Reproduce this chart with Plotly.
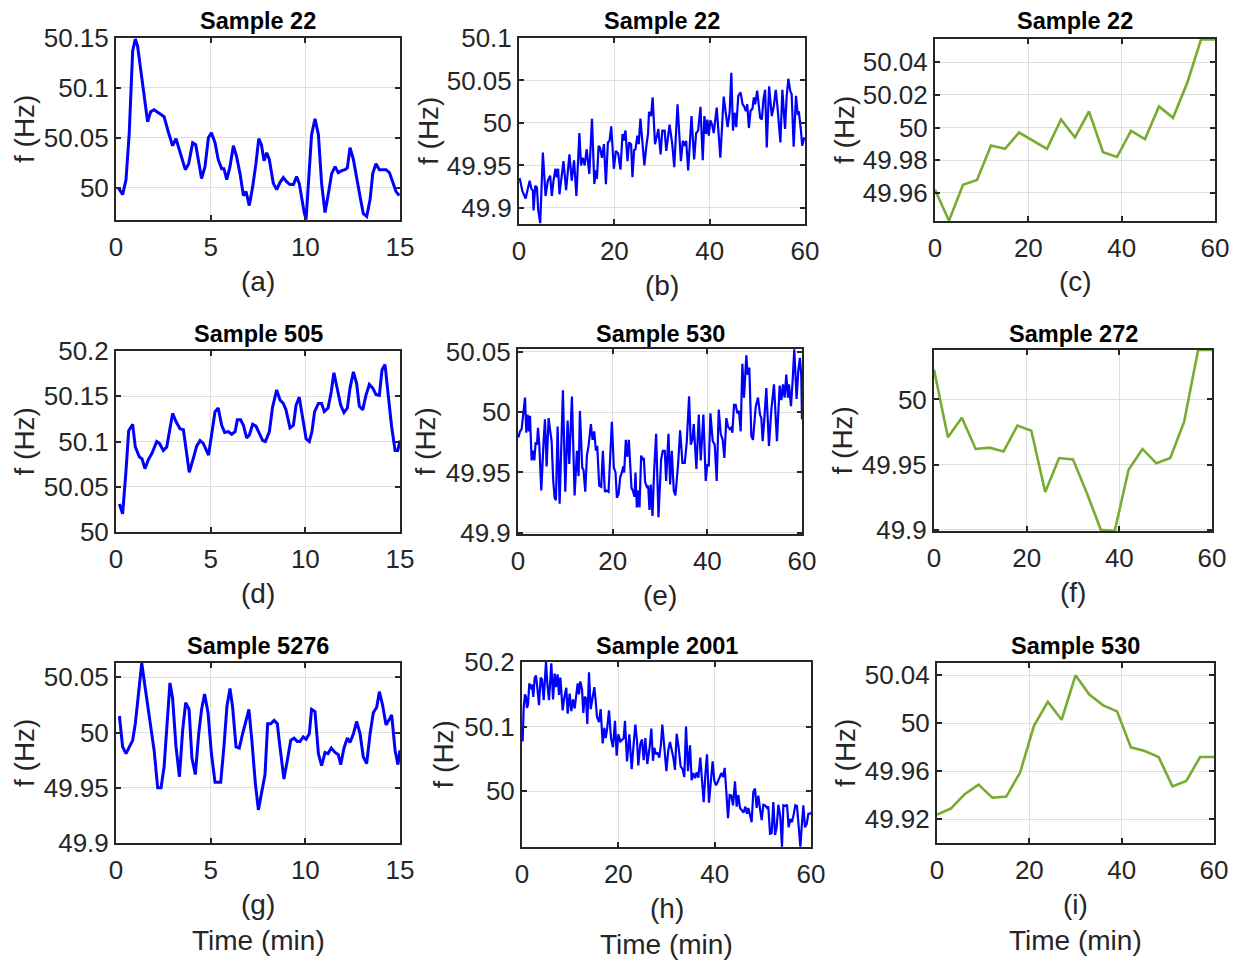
import plotly.graph_objects as go

# ---------------- data ----------------
a_x = [0.12,0.35,0.53,0.70,0.88,1.02,1.14,1.30,1.53,1.67,1.83,2.01,2.24,2.38,2.54,2.76,2.99,3.17,3.38,3.66,3.84,4.05,4.21,4.52,4.70,4.88,5.04,5.23,5.40,5.58,5.70,5.85,6.02,6.20,6.37,6.55,6.73,6.87,7.04,7.22,7.39,7.54,7.68,7.82,7.96,8.10,8.31,8.49,8.66,8.84,9.01,9.19,9.37,9.54,9.68,9.81,9.93,10.04,10.16,10.33,10.51,10.69,10.86,11.04,11.21,11.39,11.57,11.74,11.92,12.10,12.22,12.36,12.54,12.71,12.89,13.06,13.24,13.42,13.56,13.73,13.91,14.08,14.26,14.44,14.61,14.79,14.96]
a_y = [50.000,49.993,50.008,50.055,50.137,50.149,50.142,50.118,50.083,50.066,50.076,50.078,50.075,50.073,50.071,50.056,50.042,50.049,50.035,50.018,50.024,50.045,50.043,50.009,50.021,50.050,50.055,50.045,50.028,50.019,50.019,50.008,50.021,50.042,50.031,50.014,49.992,49.996,49.982,50.001,50.024,50.049,50.043,50.027,50.035,50.028,50.004,49.998,50.005,50.010,50.006,50.003,50.003,50.011,50.004,49.988,49.976,49.968,50.001,50.053,50.069,50.053,50.004,49.975,49.993,50.014,50.021,50.015,50.017,50.018,50.020,50.040,50.028,50.008,49.991,49.974,49.971,49.988,50.014,50.024,50.018,50.018,50.018,50.015,50.006,49.996,49.992]

b_x = [0.14,0.70,1.39,1.88,2.23,2.57,2.92,3.06,3.41,3.76,4.04,4.45,5.01,5.57,6.05,6.54,6.89,7.24,7.65,7.93,8.21,8.49,9.33,9.88,10.58,11.06,11.55,12.04,12.67,13.01,13.36,13.78,14.20,14.75,15.31,15.80,16.15,16.35,16.70,16.98,17.40,17.82,18.23,18.65,19.00,19.35,19.90,20.32,20.81,21.29,21.71,21.92,22.34,22.76,23.10,23.52,23.80,24.15,24.43,24.84,25.12,25.47,25.89,26.30,26.72,27.07,27.28,27.70,28.04,28.53,28.95,29.23,29.71,30.06,30.55,30.90,31.59,32.15,32.57,33.26,33.96,34.38,34.80,35.07,35.49,36.19,36.74,37.16,37.58,38.07,38.55,38.90,39.25,39.53,39.81,40.15,40.50,40.85,41.48,42.24,42.94,43.42,43.77,44.19,44.54,44.89,45.23,45.58,46.00,46.49,46.90,47.18,47.60,47.88,48.23,48.57,48.99,49.27,49.55,49.97,50.59,50.94,51.29,51.64,51.98,52.47,53.03,53.44,53.86,54.21,54.84,55.25,55.81,56.16,56.51,56.93,57.20,57.62,58.11,58.46,58.73,59.15,59.42,59.85]
b_y = [49.935,49.920,49.911,49.926,49.932,49.923,49.920,49.897,49.926,49.924,49.897,49.882,49.965,49.914,49.932,49.938,49.914,49.932,49.946,49.936,49.946,49.916,49.955,49.921,49.963,49.932,49.956,49.914,49.988,49.950,49.959,49.950,49.969,49.940,50.005,49.928,49.944,49.934,49.973,49.971,49.959,49.975,49.928,49.977,49.979,49.996,49.946,49.967,49.964,49.945,49.987,49.979,49.991,49.955,49.977,49.975,49.936,49.968,49.969,49.985,49.975,50.005,49.973,49.950,49.973,49.987,50.013,50.008,50.030,49.975,49.985,49.993,49.963,49.991,49.991,49.967,49.998,49.975,49.948,50.022,49.955,49.979,49.973,49.979,49.944,50.008,49.957,49.988,49.991,50.019,49.956,50.008,49.987,50.004,49.985,50.003,49.998,49.988,50.018,49.959,50.031,50.008,49.995,50.012,50.059,49.991,50.012,49.995,50.032,50.036,50.022,50.020,50.014,50.022,49.994,50.014,50.017,50.030,50.022,50.038,50.006,50.004,50.028,50.039,49.971,50.043,50.008,50.019,50.039,50.020,49.977,50.039,49.993,50.032,50.052,50.037,50.034,49.972,50.032,50.011,50.012,49.991,49.973,49.983]

c_x = [0,3,6,9,12,15,18,21,24,27,30,33,36,39,42,45,48,51,54,57,60]
c_y = [49.962,49.943,49.965,49.968,49.989,49.987,49.997,49.992,49.987,50.005,49.994,50.010,49.985,49.982,49.998,49.993,50.013,50.006,50.027,50.054,50.054]

d_x = [0.18,0.35,0.53,0.67,0.88,1.02,1.23,1.37,1.53,1.71,1.90,2.15,2.29,2.50,2.68,2.82,2.99,3.17,3.38,3.56,3.70,3.87,4.08,4.26,4.44,4.61,4.89,5.05,5.23,5.40,5.58,5.74,5.93,6.11,6.29,6.41,6.58,6.73,6.90,7.04,7.22,7.39,7.57,7.75,7.89,8.10,8.27,8.49,8.66,8.84,8.98,9.19,9.37,9.51,9.68,9.86,10.04,10.21,10.35,10.49,10.69,10.86,11.00,11.20,11.37,11.51,11.69,11.87,12.04,12.22,12.36,12.54,12.71,12.85,13.03,13.20,13.38,13.56,13.73,13.91,14.05,14.21,14.38,14.56,14.74,14.88,15.0]
d_y = [50.031,50.020,50.068,50.112,50.119,50.094,50.083,50.081,50.070,50.080,50.087,50.100,50.098,50.090,50.094,50.111,50.131,50.122,50.114,50.113,50.090,50.066,50.081,50.095,50.101,50.098,50.085,50.107,50.133,50.137,50.118,50.110,50.111,50.108,50.111,50.124,50.124,50.118,50.104,50.107,50.119,50.117,50.109,50.101,50.100,50.111,50.138,50.157,50.146,50.142,50.135,50.115,50.118,50.140,50.149,50.127,50.103,50.100,50.111,50.133,50.142,50.142,50.133,50.137,50.155,50.176,50.159,50.140,50.132,50.137,50.159,50.177,50.164,50.139,50.135,50.151,50.163,50.159,50.152,50.151,50.179,50.185,50.151,50.116,50.090,50.090,50.101]

e_x = [0.07,0.42,0.77,1.13,1.48,1.76,2.04,2.32,2.53,2.88,3.23,3.45,3.73,4.01,4.22,4.50,4.92,5.41,5.70,6.05,6.47,6.75,7.10,7.45,7.74,8.02,8.37,8.79,9.49,9.99,10.48,10.83,11.39,11.96,12.45,12.80,13.08,13.57,13.85,14.21,14.56,14.91,15.40,15.75,16.10,16.46,16.74,17.16,17.58,17.93,18.35,18.71,19.13,19.83,20.25,20.60,20.89,21.24,21.59,21.94,22.22,22.43,22.78,23.07,23.42,23.98,24.26,24.61,24.82,25.11,25.32,25.67,26.02,26.30,26.58,26.86,27.22,27.50,27.78,28.06,28.41,28.76,29.18,29.68,30.24,30.59,31.01,31.29,31.79,32.14,32.49,32.91,33.26,33.83,34.25,34.74,35.23,35.65,36.15,36.50,36.85,37.13,37.69,38.19,38.61,39.17,39.66,40.01,40.30,40.65,41.14,41.56,41.98,42.41,42.83,43.25,43.60,44.02,44.37,44.73,45.01,45.29,45.64,45.99,46.34,46.69,47.05,47.40,47.75,48.24,48.52,48.87,49.30,49.65,50.21,50.70,51.13,51.41,51.69,51.97,52.46,53.02,53.52,54.08,54.71,55.27,55.63,55.98,56.33,56.68,57.03,57.24,57.67,58.02,58.37,58.86,59.21,59.56,59.85,60.0]
e_y = [49.979,49.984,49.986,49.997,50.012,49.983,49.998,49.984,49.997,49.960,49.968,49.960,49.975,49.973,49.987,49.973,49.935,49.976,49.994,49.955,49.995,49.986,49.976,49.943,49.929,49.927,49.988,49.924,50.018,49.934,49.993,49.957,50.013,49.931,49.968,49.947,50.001,49.954,49.952,49.934,49.964,49.972,49.990,49.977,49.984,49.968,49.972,49.939,49.938,49.968,49.934,49.935,49.934,49.992,49.954,49.950,49.929,49.932,49.946,49.950,49.955,49.950,49.977,49.963,49.977,49.937,49.935,49.930,49.950,49.921,49.935,49.921,49.964,49.961,49.962,49.942,49.938,49.939,49.919,49.940,49.914,49.951,49.982,49.913,49.961,49.968,49.968,49.943,49.982,49.940,49.968,49.935,49.931,49.957,49.985,49.958,49.958,49.975,50.013,49.973,49.977,49.990,49.953,49.998,49.960,49.998,49.943,49.957,49.955,49.999,49.976,49.973,49.943,50.002,49.982,49.977,49.962,49.995,49.988,49.986,49.987,49.983,50.006,50.006,49.999,50.001,49.984,50.040,50.012,50.047,50.031,50.037,49.980,49.977,50.004,50.012,49.998,49.995,49.976,49.990,50.020,49.972,50.002,50.023,49.976,50.022,50.010,50.023,50.012,50.031,50.012,50.023,50.005,50.026,50.052,50.011,50.034,50.045,50.030,49.994]

f_x = [0,3,6,9,12,15,18,21,24,27,30,33,36,39,42,45,48,51,54,57,60]
f_y = [50.023,49.971,49.986,49.962,49.963,49.960,49.980,49.976,49.929,49.955,49.954,49.928,49.900,49.899,49.946,49.962,49.951,49.955,49.983,50.038,50.038]

g_x = [0.18,0.35,0.53,0.70,0.88,1.02,1.18,1.36,1.53,1.71,1.88,2.02,2.20,2.38,2.54,2.68,2.85,2.99,3.17,3.35,3.52,3.68,3.86,4.01,4.19,4.37,4.52,4.68,4.86,5.04,5.23,5.40,5.53,5.70,5.86,6.02,6.16,6.34,6.51,6.69,6.87,7.02,7.18,7.36,7.52,7.68,7.87,8.01,8.17,8.35,8.52,8.66,8.87,9.05,9.23,9.40,9.58,9.72,9.89,10.04,10.21,10.33,10.51,10.69,10.86,11.04,11.20,11.37,11.57,11.74,11.87,12.04,12.22,12.36,12.54,12.71,12.89,13.06,13.24,13.42,13.59,13.77,13.91,14.08,14.26,14.44,14.56,14.74,14.89,15.0]
g_y = [50.015,49.987,49.981,49.987,49.993,50.008,50.034,50.063,50.042,50.021,49.999,49.983,49.950,49.950,49.969,50.008,50.045,50.031,49.987,49.960,50.002,50.027,50.021,49.977,49.962,49.999,50.021,50.035,50.018,49.981,49.955,49.955,49.955,49.987,50.024,50.040,50.023,49.987,49.986,49.999,50.012,50.021,49.992,49.954,49.930,49.945,49.962,50.008,50.008,50.011,50.008,49.987,49.958,49.975,49.993,49.995,49.992,49.992,49.996,49.994,49.999,50.021,50.019,49.981,49.970,49.982,49.981,49.986,49.982,49.980,49.971,49.986,49.995,49.991,49.999,50.010,49.999,49.978,49.972,49.999,50.018,50.023,50.037,50.025,50.007,50.012,50.016,49.984,49.971,49.984]

h_x = [0.14,0.35,0.62,0.83,1.04,1.25,1.52,1.87,2.08,2.35,2.63,2.91,3.25,3.53,3.88,4.15,4.50,4.98,5.26,5.61,6.09,6.44,6.78,7.06,7.40,7.68,7.96,8.44,8.79,9.20,9.48,9.90,10.24,10.59,10.93,11.21,11.56,11.83,12.11,12.46,12.73,13.01,13.29,13.56,13.91,14.26,14.67,15.02,15.29,15.57,15.99,16.33,16.75,17.09,17.37,17.65,18.06,18.48,18.89,19.31,19.65,20.00,20.42,20.76,21.11,21.38,21.80,22.28,22.77,23.18,23.53,23.88,24.15,24.57,24.91,25.26,25.61,26.02,26.51,26.85,27.20,27.47,27.82,28.10,28.51,28.86,29.13,29.55,29.97,30.38,30.73,31.07,31.42,31.76,32.11,32.53,32.94,33.29,33.70,34.05,34.46,34.88,35.22,35.57,35.92,36.26,36.61,37.02,37.37,37.72,38.06,38.41,38.82,39.24,39.58,39.93,40.28,40.62,41.04,41.38,41.73,42.08,42.42,42.77,43.11,43.46,43.81,44.22,44.57,44.91,45.26,45.61,46.02,46.37,46.71,46.99,47.34,47.68,48.03,48.37,48.72,49.07,49.41,49.76,50.10,50.45,50.87,51.14,51.49,51.83,52.18,52.53,52.87,53.22,53.63,53.98,54.26,54.67,55.02,55.36,55.71,56.06,56.40,56.75,57.09,57.44,57.79,58.06,58.41,58.75,59.10,59.45,59.79,60.0]
h_y = [50.077,50.129,50.150,50.146,50.129,50.134,50.167,50.158,50.165,50.146,50.175,50.179,50.155,50.133,50.176,50.173,50.141,50.200,50.166,50.141,50.198,50.142,50.182,50.161,50.181,50.149,50.176,50.125,50.145,50.160,50.120,50.151,50.124,50.142,50.128,50.144,50.167,50.150,50.170,50.158,50.121,50.146,50.144,50.104,50.184,50.127,50.145,50.161,50.140,50.115,50.107,50.127,50.074,50.098,50.082,50.095,50.125,50.082,50.068,50.109,50.055,50.088,50.077,50.080,50.082,50.109,50.046,50.088,50.034,50.073,50.103,50.078,50.040,50.073,50.080,50.048,50.082,50.042,50.069,50.097,50.047,50.067,50.057,50.060,50.052,50.073,50.103,50.068,50.031,50.064,50.076,50.064,50.052,50.033,50.089,50.067,50.038,50.035,50.022,50.100,50.031,50.071,50.017,50.028,50.020,50.029,50.021,50.052,50.021,49.983,50.025,50.057,49.982,50.017,50.046,50.016,50.009,50.014,50.021,50.028,50.022,50.036,49.999,49.958,49.994,49.993,49.978,50.015,49.976,49.994,49.974,49.970,49.967,49.976,49.965,49.974,49.964,49.952,49.999,50.004,49.974,49.993,49.973,49.955,49.979,49.978,49.974,49.976,49.934,49.935,49.983,49.932,49.944,49.979,49.960,49.914,49.978,49.977,49.979,49.944,49.957,49.952,49.964,49.978,49.977,49.947,49.914,49.944,49.978,49.944,49.949,49.965,49.965,49.967]

i_x = [0,3,6,9,12,15,18,21,24,27,30,33,36,39,42,45,48,51,54,57,60]
i_y = [49.924,49.929,49.941,49.949,49.938,49.939,49.959,49.998,50.018,50.003,50.040,50.024,50.015,50.010,49.980,49.977,49.972,49.9475,49.952,49.972,49.972]

titles = ["Sample 22", "Sample 22", "Sample 22", "Sample 505", "Sample 530", "Sample 272",
          "Sample 5276", "Sample 2001", "Sample 530"]
sublabels = ["(a)", "(b)", "(c)", "(d)", "(e)", "(f)", "(g)", "(h)", "(i)"]
xlabel = "Time (min)"
ylabel = "f (Hz)"

x_ticks_15 = [0, 5, 10, 15]
x_ticks_60 = [0, 20, 40, 60]
y_ticks = {
    "a": [50, 50.05, 50.1, 50.15],
    "b": [49.9, 49.95, 50, 50.05, 50.1],
    "c": [49.96, 49.98, 50, 50.02, 50.04],
    "d": [50, 50.05, 50.1, 50.15, 50.2],
    "e": [49.9, 49.95, 50, 50.05],
    "f": [49.9, 49.95, 50],
    "g": [49.9, 49.95, 50, 50.05],
    "h": [50, 50.1, 50.2],
    "i": [49.92, 49.96, 50, 50.04],
}
y_ranges = {
    "a": [49.9675, 50.15], "b": [49.881, 50.1], "c": [49.9428, 50.0543],
    "d": [50.0, 50.2], "e": [49.899, 50.0523], "f": [49.899, 50.038],
    "g": [49.9, 50.063], "h": [49.9135, 50.2], "i": [49.9003, 50.0503],
}

BLUE = "#0000FF"
GREEN = "#77AC30"
W, H = 1237, 960

# panel boxes in pixels: (left, right, top, bottom)
boxes = {
    "a": (116, 400, 38, 220), "b": (519, 805, 38, 224), "c": (935, 1215, 39, 221),
    "d": (116, 400, 351, 532), "e": (518, 802, 349, 534), "f": (934, 1212, 350, 531),
    "g": (116, 400, 663, 843), "h": (522, 811, 662, 847), "i": (937, 1214, 663, 843),
}
ylab_x = {"a": 24, "b": 428, "c": 845, "d": 24, "e": 425, "f": 842, "g": 24, "h": 443, "i": 845}

series = {
    "a": (a_x, a_y, BLUE, 3.0, 15), "b": (b_x, b_y, BLUE, 2.2, 60), "c": (c_x, c_y, GREEN, 2.6, 60),
    "d": (d_x, d_y, BLUE, 3.0, 15), "e": (e_x, e_y, BLUE, 2.2, 60), "f": (f_x, f_y, GREEN, 2.6, 60),
    "g": (g_x, g_y, BLUE, 3.0, 15), "h": (h_x, h_y, BLUE, 2.2, 60), "i": (i_x, i_y, GREEN, 2.6, 60),
}

FONT = "Liberation Sans, Arial, Helvetica, sans-serif"
TXT = "#262626"
TICK_SIZE = 26
LABEL_SIZE = 28
TITLE_SIZE = 23.5

def fmt(v):
    s = ("%.2f" % v).rstrip("0").rstrip(".")
    return s

fig = go.Figure()
annotations = []
layout = dict(
    width=W, height=H, margin=dict(l=0, r=0, t=0, b=0, pad=0, autoexpand=False),
    paper_bgcolor="white", plot_bgcolor="white", showlegend=False,
    font=dict(family=FONT, size=TICK_SIZE, color=TXT),
)

def px_x(p):
    return p / W

def px_y(p):
    return 1 - p / H

for idx, key in enumerate("abcdefghi"):
    n = idx + 1
    xs, ys, col, lw, xmax = series[key]
    xa = "x" if n == 1 else "x%d" % n
    ya = "y" if n == 1 else "y%d" % n
    fig.add_trace(go.Scatter(x=xs, y=ys, mode="lines", xaxis=xa, yaxis=ya,
                             line=dict(color=col, width=lw), hoverinfo="skip"))
    l, r, t, b = boxes[key]
    xt = x_ticks_15 if xmax == 15 else x_ticks_60
    common = dict(showline=True, linecolor=TXT, linewidth=2, mirror="ticks",
                  ticks="inside", ticklen=5, tickwidth=2, tickcolor=TXT,
                  showgrid=True, gridcolor="#DEDEDE", gridwidth=1, zeroline=False,
                  automargin=False,
                  tickfont=dict(family=FONT, size=TICK_SIZE, color=TXT))
    layout["xaxis" if n == 1 else "xaxis%d" % n] = dict(
        domain=[px_x(l), px_x(r)], anchor=ya, range=[0, xmax],
        tickvals=xt, ticktext=[str(v) for v in xt], ticklabelstandoff=3, **common)
    layout["yaxis" if n == 1 else "yaxis%d" % n] = dict(
        domain=[px_y(b), px_y(t)], anchor=xa, range=y_ranges[key],
        tickvals=y_ticks[key], ticktext=[fmt(v) for v in y_ticks[key]],
        ticklabelstandoff=0, **common)
    cx = (l + r) / 2
    row = idx // 3
    title_y = [21, 334, 646][row]
    annotations.append(dict(text="<b>%s</b>" % titles[idx], x=px_x(cx), y=px_y(title_y),
                            xref="paper", yref="paper", showarrow=False,
                            xanchor="center", yanchor="middle",
                            font=dict(family=FONT, size=TITLE_SIZE, color="black")))
    sub_y = b + 61
    annotations.append(dict(text=sublabels[idx], x=px_x(cx), y=px_y(sub_y),
                            xref="paper", yref="paper", showarrow=False,
                            xanchor="center", yanchor="middle",
                            font=dict(family=FONT, size=LABEL_SIZE, color=TXT)))
    if row == 2:
        annotations.append(dict(text=xlabel, x=px_x(cx), y=px_y(b + 97),
                                xref="paper", yref="paper", showarrow=False,
                                xanchor="center", yanchor="middle",
                                font=dict(family=FONT, size=LABEL_SIZE, color=TXT)))
    annotations.append(dict(text=ylabel, x=px_x(ylab_x[key]), y=px_y((t + b) / 2),
                            xref="paper", yref="paper", showarrow=False, textangle=-90,
                            xanchor="center", yanchor="middle",
                            font=dict(family=FONT, size=LABEL_SIZE, color=TXT)))

layout["annotations"] = annotations
fig.update_layout(**layout)
fig.write_html("out.html")
